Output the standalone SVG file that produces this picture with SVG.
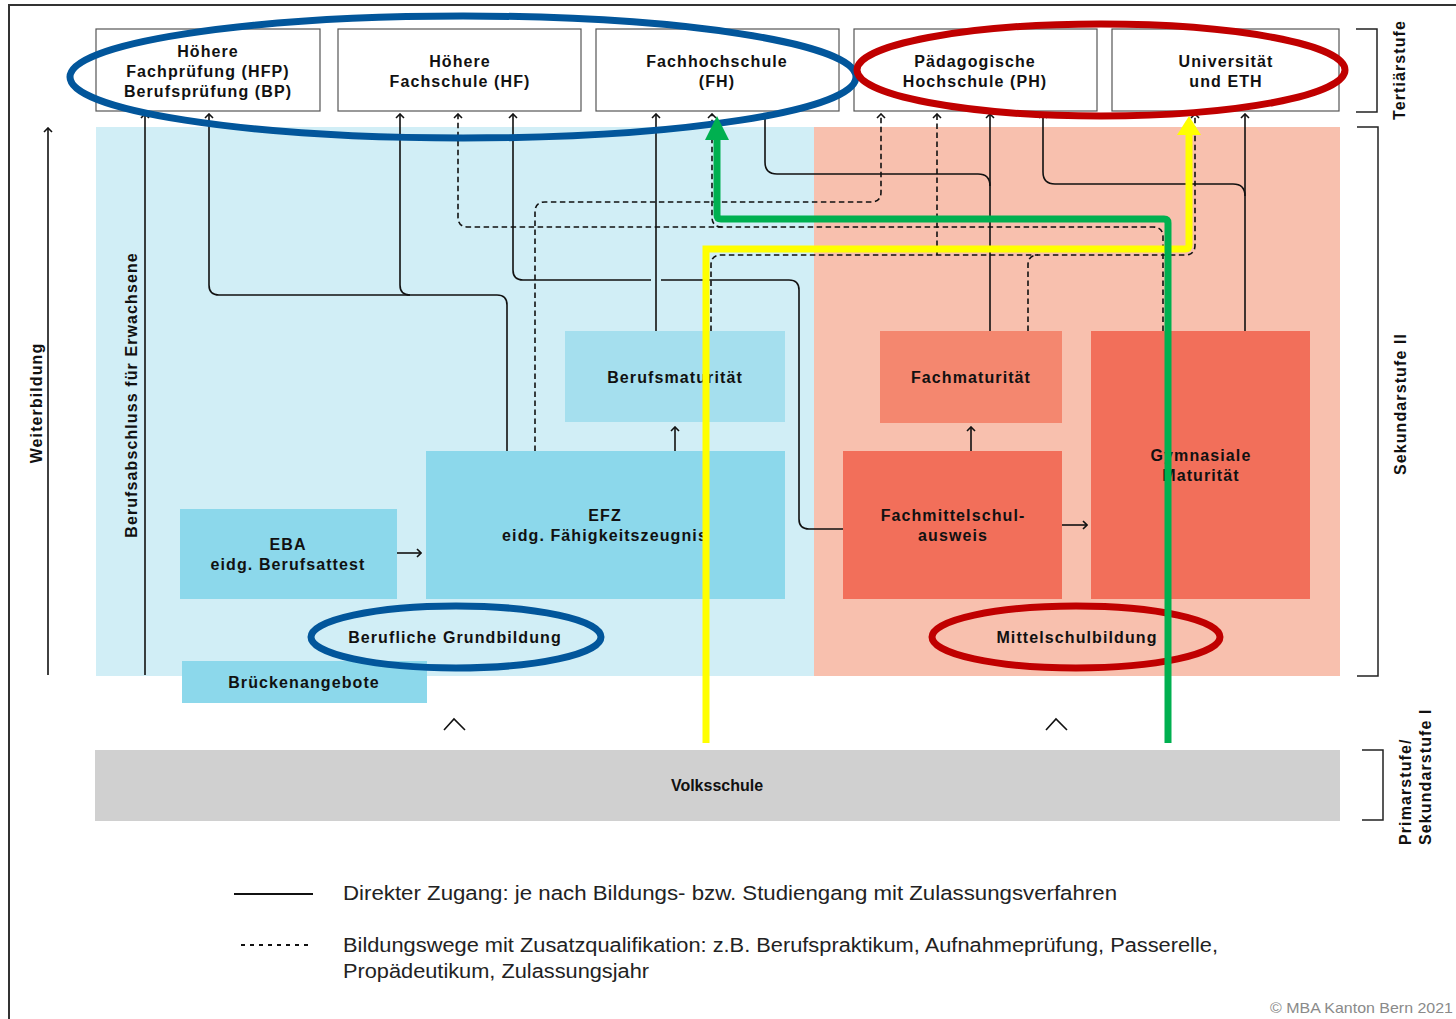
<svg xmlns="http://www.w3.org/2000/svg" width="1456" height="1019" viewBox="0 0 1456 1019">
<defs>
<style>
.lbl{font-family:"Liberation Sans",Arial,sans-serif;font-weight:bold;font-size:16px;letter-spacing:1.1px;fill:#111;text-anchor:middle}
.vol{font-family:"Liberation Sans",Arial,sans-serif;font-weight:bold;font-size:16px;fill:#111;text-anchor:middle}
.side{font-family:"Liberation Sans",Arial,sans-serif;font-weight:bold;font-size:16px;letter-spacing:1.1px;fill:#111}
.leg{font-family:"Liberation Sans",Arial,sans-serif;font-size:20px;fill:#222}
.top{fill:#fff;stroke:#555;stroke-width:1.2}
.s{fill:none;stroke:#111;stroke-width:1.6}
.d{fill:none;stroke:#111;stroke-width:1.6;stroke-dasharray:5.5 3.5}
.br{fill:none;stroke:#222;stroke-width:1.5}
.arr{marker-end:url(#ah)}
</style>
<marker id="ah" viewBox="0 0 10 10" refX="9" refY="5" markerWidth="10" markerHeight="10" markerUnits="userSpaceOnUse" orient="auto">
<path d="M5,1 L9,5 L5,9" fill="none" stroke="#111" stroke-width="1.6" stroke-dasharray="none"/>
</marker>
</defs>

<rect x="0" y="0" width="1456" height="1019" fill="#fff"/>
<path d="M9,1019 V5 H1456" fill="none" stroke="#333" stroke-width="2"/>

<!-- backgrounds -->
<g id="bg-berufsbildung"><rect x="96" y="127" width="718" height="549" fill="#d1eef6"/></g>
<g id="bg-mittelschule"><rect x="814" y="127" width="526" height="549" fill="#f8c0ae"/></g>

<!-- tertiary nodes -->
<g id="hfp"><rect class="top" x="96" y="29" width="224" height="82"/>
<text class="lbl" x="208" y="57">Höhere</text><text class="lbl" x="208" y="77">Fachprüfung (HFP)</text><text class="lbl" x="208" y="97">Berufsprüfung (BP)</text></g>
<g id="hf"><rect class="top" x="338" y="29" width="243" height="82"/>
<text class="lbl" x="460" y="67">Höhere</text><text class="lbl" x="460" y="87">Fachschule (HF)</text></g>
<g id="fh"><rect class="top" x="596" y="29" width="243" height="82"/>
<text class="lbl" x="717" y="67">Fachhochschule</text><text class="lbl" x="717" y="87">(FH)</text></g>
<g id="ph"><rect class="top" x="854" y="29" width="243" height="82"/>
<text class="lbl" x="975" y="67">Pädagogische</text><text class="lbl" x="975" y="87">Hochschule (PH)</text></g>
<g id="uni"><rect class="top" x="1112" y="29" width="227" height="82"/>
<text class="lbl" x="1226" y="67">Universität</text><text class="lbl" x="1226" y="87">und ETH</text></g>

<!-- secondary nodes -->
<g id="berufsmaturitaet"><rect x="565" y="331" width="220" height="91" fill="#a5dfee"/>
<text class="lbl" x="675" y="383">Berufsmaturität</text></g>
<g id="efz"><rect x="426" y="451" width="359" height="148" fill="#8cd8eb"/>
<text class="lbl" x="605" y="521">EFZ</text><text class="lbl" x="605" y="541">eidg. Fähigkeitszeugnis</text></g>
<g id="eba"><rect x="180" y="509" width="217" height="90" fill="#8cd8eb"/>
<text class="lbl" x="288" y="550">EBA</text><text class="lbl" x="288" y="570">eidg. Berufsattest</text></g>
<g id="brueckenangebote"><rect x="182" y="661" width="245" height="42" fill="#8cd8eb"/>
<text class="lbl" x="304" y="688">Brückenangebote</text></g>
<g id="berufliche-grundbildung"><text class="lbl" x="455" y="643">Berufliche Grundbildung</text></g>
<g id="fachmaturitaet"><rect x="880" y="331" width="182" height="92" fill="#f4876f"/>
<text class="lbl" x="971" y="383">Fachmaturität</text></g>
<g id="fms"><rect x="843" y="451" width="219" height="148" fill="#f26f5a"/>
<text class="lbl" x="953" y="521">Fachmittelschul-</text><text class="lbl" x="953" y="541">ausweis</text></g>
<g id="gymnasium"><rect x="1091" y="331" width="219" height="268" fill="#f26f5a"/>
<text class="lbl" x="1201" y="461">Gymnasiale</text><text class="lbl" x="1201" y="481">Maturität</text></g>
<g id="mittelschulbildung"><text class="lbl" x="1077" y="643">Mittelschulbildung</text></g>
<g id="volksschule"><rect x="95" y="750" width="1245" height="71" fill="#d0d0d0"/>
<text class="vol" x="717" y="791">Volksschule</text></g>

<!-- side labels -->
<g id="weiterbildung"><text class="side" text-anchor="middle" transform="translate(42,403) rotate(-90)">Weiterbildung</text></g>
<g id="erwachsene"><text class="side" text-anchor="middle" transform="translate(137,395) rotate(-90)">Berufsabschluss für Erwachsene</text></g>
<g id="stufen">
<path class="br" d="M1356,29 H1377 V112 H1356"/>
<path class="br" d="M1357,127 H1378 V676 H1357"/>
<path class="br" d="M1362,750 H1383 V820 H1362"/>
<text class="side" text-anchor="middle" transform="translate(1405,70) rotate(-90)">Tertiärstufe</text>
<text class="side" text-anchor="middle" transform="translate(1406,404) rotate(-90)">Sekundarstufe II</text>
<text class="side" text-anchor="start" transform="translate(1411,845) rotate(-90)">Primarstufe/</text>
<text class="side" text-anchor="start" transform="translate(1431,845) rotate(-90)">Sekundarstufe I</text>
</g>

<!-- connectors -->
<g id="connectors">
<path class="s arr" d="M48,675 V128"/>
<path class="s arr" d="M145,675 V114"/>
<path class="s arr" d="M507,451 V305 Q507,295 497,295 H219 Q209,295 209,285 V114"/>
<path class="s arr" d="M410,295 Q400,295 400,285 V114"/>
<path class="s arr" d="M843,529 H809 Q799,529 799,519 V290 Q799,280 789,280 H661 M651,280 H523 Q513,280 513,270 V114"/>
<path class="s arr" d="M656,331 V114"/>
<path class="s arr" d="M990,331 V114"/>
<path class="s arr" d="M990,186 Q990,174 978,174 H777 Q765,174 765,162 V114"/>
<path class="s arr" d="M1245,331 V114"/>
<path class="s arr" d="M1245,196 Q1245,184 1233,184 H1055 Q1043,184 1043,172 V114"/>
<path class="s arr" d="M675,451 V427"/>
<path class="s arr" d="M971,451 V427"/>
<path class="s arr" d="M397,553 H421"/>
<path class="s arr" d="M1062,525 H1087"/>
<path class="d arr" d="M535,451 V212 Q535,202 545,202 H871 Q881,202 881,192 V114"/>
<path class="d arr" d="M1163,331 V237 Q1163,227 1153,227 H468 Q458,227 458,217 V114"/>
<path class="d arr" d="M722,227 Q712,227 712,217 V114"/>
<path class="d arr" d="M711,331 V265 Q711,255 721,255 H1185 Q1195,255 1195,245 V114"/>
<path class="d arr" d="M937,255 V114"/>
<path class="d" d="M1028,331 V265 Q1028,255 1038,255"/>
<path d="M444,730 L454,719 L465,730" fill="none" stroke="#111" stroke-width="1.6"/>
<path d="M1046,730 L1056,719 L1067,730" fill="none" stroke="#111" stroke-width="1.6"/>
</g>

<!-- highlights -->
<g id="highlights">
<ellipse cx="463" cy="77" rx="393" ry="61" fill="none" stroke="#02569b" stroke-width="7"/>
<ellipse cx="1101" cy="70" rx="244" ry="46" fill="none" stroke="#c00000" stroke-width="7"/>
<ellipse cx="456" cy="637" rx="145" ry="31" fill="none" stroke="#02569b" stroke-width="7"/>
<ellipse cx="1076" cy="637" rx="144" ry="31" fill="none" stroke="#c00000" stroke-width="7"/>
<g id="path-yellow">
<path d="M706,743 V249 H1185 Q1189,249 1189,245 V132" fill="none" stroke="#ffff00" stroke-width="7"/>
<polygon points="1189,116 1177,135 1201,135" fill="#ffff00"/>
</g>
<g id="path-green">
<path d="M1168,743 V223 Q1168,219 1164,219 H721 Q717,219 717,215 V136" fill="none" stroke="#00b050" stroke-width="7"/>
<polygon points="717,116 705,140 729,140" fill="#00b050"/>
</g>
</g>

<!-- legend -->
<g id="legend">
<line x1="234" y1="894" x2="313" y2="894" stroke="#111" stroke-width="2"/>
<text class="leg" x="343" y="900" textLength="774" lengthAdjust="spacingAndGlyphs">Direkter Zugang: je nach Bildungs- bzw. Studiengang mit Zulassungsverfahren</text>
<line x1="241" y1="945" x2="310" y2="945" stroke="#111" stroke-width="2" stroke-dasharray="4 5"/>
<text class="leg" x="343" y="952" textLength="875" lengthAdjust="spacingAndGlyphs">Bildungswege mit Zusatzqualifikation: z.B. Berufspraktikum, Aufnahmeprüfung, Passerelle,</text>
<text class="leg" x="343" y="978" textLength="306" lengthAdjust="spacingAndGlyphs">Propädeutikum, Zulassungsjahr</text>
<text x="1453" y="1013" text-anchor="end" font-family="Liberation Sans, Arial, sans-serif" font-size="15" fill="#8a8a8a" textLength="183" lengthAdjust="spacingAndGlyphs">© MBA Kanton Bern 2021</text>
</g>
</svg>
